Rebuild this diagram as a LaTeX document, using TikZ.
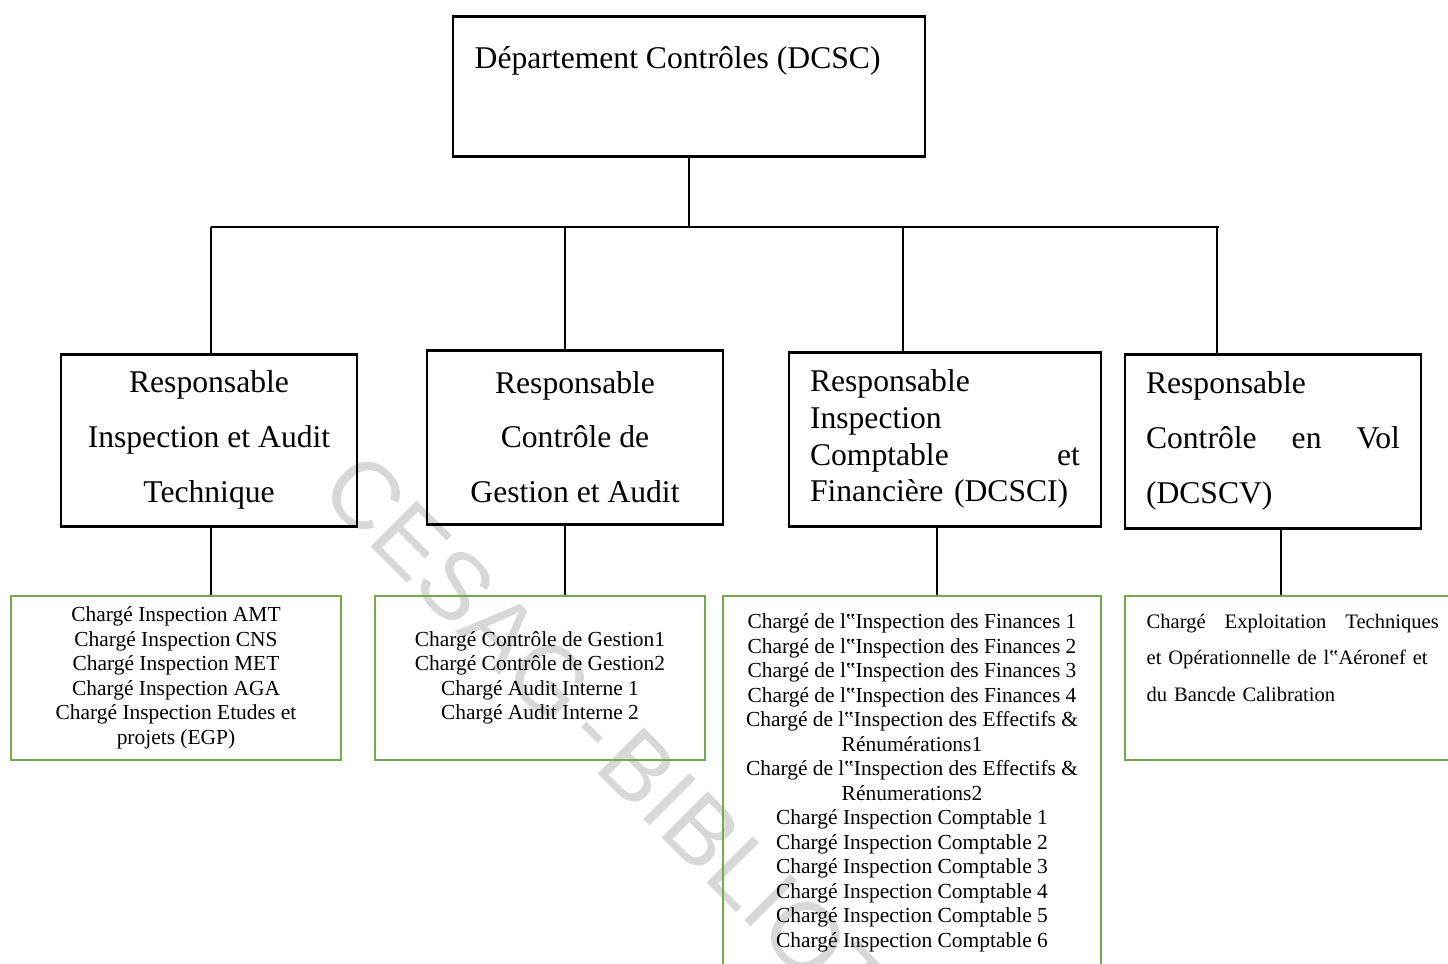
\documentclass[tikz,border=0pt]{standalone}
\usepackage{fontspec}
\setmainfont{Liberation Serif}
\newfontfamily\wmfont{Liberation Sans}
\usepackage{xcolor}
\usepackage{tikz}
\usetikzlibrary{positioning}
\definecolor{officegreen}{RGB}{112,173,71}
\definecolor{wmgray}{RGB}{216,216,216}

\begin{document}
\begin{tikzpicture}[
  chef/.style={draw, line width=0.85pt, inner sep=0pt, align=center,
    font=\fontsize{9}{15.6}\selectfont},
  agents/.style={draw=officegreen, line width=0.75pt, inner sep=0pt, align=center,
    font=\fontsize{6.1}{6.97}\selectfont},
  link/.style={line width=0.35pt}
]
  \clip (0,0) rectangle (14.48,-9.63);

  % Watermark behind everything
  \node[anchor=base west, rotate=-45, inner sep=0pt, text=wmgray,
    font=\wmfont\fontsize{27}{27}\selectfont] (filigrane) at (3.17,-4.93)
    {CESAG\hspace{0.17em}-\hspace{0.1em}BIBLIOTHEQUE};

  % Department box
  \node[chef, minimum width=4.72cm, minimum height=1.40cm] (dcsc) at (6.89,-0.86) {};
  \node[anchor=west, inner sep=0pt, font=\fontsize{9}{10}\selectfont] (dcsctitre)
    at (4.74,-0.61) {Département Contrôles (DCSC)};

  % Responsables
  \node[chef, minimum width=2.96cm, minimum height=1.72cm] (r1) at (2.09,-4.40)
    {Responsable\\Inspection et Audit\\Technique};
  \node[chef, minimum width=2.96cm, minimum height=1.74cm] (r2) at (5.75,-4.37)
    {Responsable\\Contrôle de\\Gestion et Audit};
  \node[chef, minimum width=3.12cm, minimum height=1.74cm, text width=2.70cm,
    align=left, font=\fontsize{9}{10.5}\selectfont] (r3) at (9.45,-4.39)
    {Responsable\\Inspection\\Comptable\hfill et\\Financière (DCSCI)};
  \node[chef, minimum width=2.96cm, minimum height=1.74cm, text width=2.54cm,
    align=left] (r4) at (12.73,-4.41)
    {Responsable\\Contrôle\hfill en\hfill Vol\\(DCSCV)};

  % Charges
  \node[agents, minimum width=3.30cm, minimum height=1.64cm] (g1) at (1.76,-6.78)
    {Chargé Inspection AMT\\Chargé Inspection CNS\\Chargé Inspection MET\\
     Chargé Inspection AGA\\Chargé Inspection Etudes et\\projets (EGP)};
  \node[agents, minimum width=3.30cm, minimum height=1.64cm] (g2) at (5.40,-6.78)
    {Chargé Contrôle de Gestion1\\Chargé Contrôle de Gestion2\\
     Chargé Audit Interne 1\\Chargé Audit Interne 2};
  \node[agents, minimum width=3.78cm, minimum height=3.74cm] (g3) at (9.12,-7.83)
    {Chargé de l‟Inspection des Finances 1\\Chargé de l‟Inspection des Finances 2\\
     Chargé de l‟Inspection des Finances 3\\Chargé de l‟Inspection des Finances 4\\
     Chargé de l‟Inspection des Effectifs \&\\Rénumérations1\\
     Chargé de l‟Inspection des Effectifs \&\\Rénumerations2\\
     Chargé Inspection Comptable 1\\Chargé Inspection Comptable 2\\
     Chargé Inspection Comptable 3\\Chargé Inspection Comptable 4\\
     Chargé Inspection Comptable 5\\Chargé Inspection Comptable 6};
  \node[agents, minimum width=3.35cm, minimum height=1.64cm] (g4) at (12.925,-6.78) {};
  \node[anchor=north west, inner sep=0pt, text width=2.92cm, align=left,
    font=\fontsize{5.85}{10.4}\selectfont] (g4texte) at (11.46,-6.13)
    {Chargé\hfill Exploitation\hfill Techniques\\
     et Opérationnelle de l‟Aéronef et\\du Bancde Calibration};

  % Branching bar
  \coordinate (b1) at (2.11,-2.27);
  \coordinate (b2) at (5.65,-2.27);
  \coordinate (b3) at (9.03,-2.27);
  \coordinate (b4) at (12.17,-2.27);
  \draw[link] (dcsc.south) -- (dcsc.south |- b1);
  \draw[link] (b1) -- ([xshift=0.02cm]b4);
  \draw[link] (b1) -- (b1 |- r1.north);
  \draw[link] (b2) -- (b2 |- r2.north);
  \draw[link] (b3) -- (b3 |- r3.north);
  \draw[link] (b4) -- (b4 |- r4.north);

  % Down to the charges
  \draw[link] (b1 |- r1.south) -- (b1 |- g1.north);
  \draw[link] (b2 |- r2.south) -- (b2 |- g2.north);
  \draw[link] ([xshift=-0.08cm]r3.south) -- ([xshift=-0.08cm]r3.south |- g3.north);
  \draw[link] ([xshift=0.08cm]r4.south) -- ([xshift=0.08cm]r4.south |- g4.north);
\end{tikzpicture}
\end{document}
